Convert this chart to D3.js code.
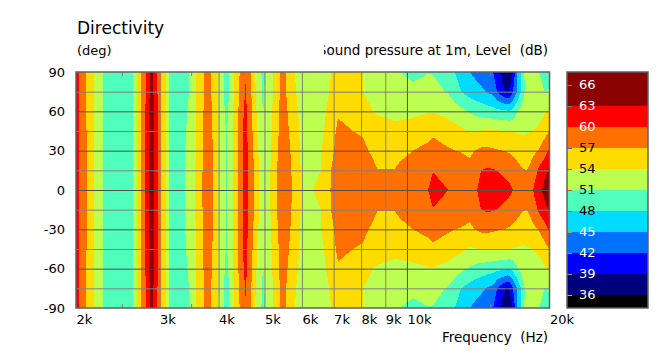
<!DOCTYPE html>
<html>
<head>
<meta charset="utf-8">
<script src="https://cdn.jsdelivr.net/npm/d3@7"></script>
<style>
  html, body { margin: 0; padding: 0; background: #fff; }
  text { font-family: "DejaVu Sans", sans-serif; font-size: 13px; fill: #000; white-space: pre; }
  .domain { display: none; }
  .y-axis text, .x-axis text { font-size: 13px; }
</style>
</head>
<body>
<svg id="chart"></svg>
<script>
var width = 666
var height = 351

// Frequency columns of the measurement (Hz)
var freqs = [
  2000, 2029, 2105, 2183, 2286, 2453, 2643, 2697, 2748, 2797, 2852, 2887, 2923, 2980,
  3024, 3091, 3151, 3284, 3398, 3465, 3585, 3709, 3791, 3875, 3990,
  4108, 4158, 4209, 4292, 4397, 4505, 4561, 4616, 4684, 4753, 4870, 4966, 5063,
  5138, 5213, 5303, 5394, 5499, 5608, 5718, 5973, 6121,
  6332, 6584, 6912, 7151, 7692, 8076, 8478, 8645, 9436, 9668, 10299,
  11078, 11351, 12151, 12633, 12944, 13589, 14059, 14335, 14760, 15197,
  15495, 15723, 15954, 16268, 16507, 16749, 17078, 17414, 17670, 17930, 18460, 19007, 19569, 20000
]

// Level in dB per angle. The plot is mirrored around 0 deg
var deg0 = [
  60.9, 60, 57, 54, 51, 49.5, 51, 54, 57, 60, 63, 66, 63, 60,
  57, 54, 51, 49.5, 51, 52.2, 54.2, 57.3, 59, 57.5, 54,
  51.5, 50.9, 52, 54.2, 57.2, 60, 62, 60, 58.5, 57, 54, 52.5, 52.2,
  54, 55.5, 57, 58, 59, 58, 57, 54, 53.2,
  54, 55.3, 57.1, 58, 58, 58, 58, 58, 58, 58, 58.3,
  60, 62, 60.1, 59.3, 59.2, 59, 60, 60.8, 61.5, 61.5,
  61.5, 61.4, 61.2, 61, 60.6, 60, 59.2, 58.8, 58.5, 58.8, 60, 61.8, 64.5, 66.5
]
var deg15 = [
  60.9, 60, 57, 54, 51, 49.5, 51, 54, 57, 60, 63, 66, 63, 60,
  57, 54, 51, 49.5, 51, 52.2, 54.2, 57.2, 59, 57.5, 54,
  51.5, 50.9, 51.9, 54.1, 57.2, 60, 62, 60, 58.5, 57, 54, 52.4, 52.2,
  53.8, 55.3, 56.8, 57.9, 59, 57.9, 56.8, 53.9, 53.2,
  53.6, 54, 57, 58, 58, 58, 57.7, 57.1, 57.1, 57.5, 58,
  59, 59.8, 58.7, 58.3, 58.2, 57.5, 58.9, 60, 60.4, 60.2,
  60, 59.7, 59.4, 58.9, 58.6, 58.3, 57.9, 57.4, 57.1, 57, 58.3, 60.6, 62, 63.5
]
var deg30 = [
  60.9, 60, 57, 54, 51, 49.5, 51, 54, 57, 60, 63, 66, 63, 60,
  57, 54, 51, 49.5, 50.9, 52.1, 54.1, 57, 59, 57.4, 54,
  51.5, 50.9, 51.8, 54, 57, 60, 61.5, 59.8, 58.3, 56.5, 53.6, 52, 52.1,
  53.5, 55, 56.5, 57.8, 58.8, 57.7, 56.5, 53.7, 53.2,
  53.4, 53.9, 56.3, 57.9, 57.8, 57.6, 56.5, 55.9, 56, 56.4, 57,
  57.6, 57.8, 57.3, 57, 56.9, 56.7, 57.2, 57.6, 57.7, 57.4,
  57.2, 57.1, 57, 56.9, 56.7, 56.5, 56, 55.5, 55.2, 55.5, 56.4, 57.2, 59, 60.5
]
var deg45 = [
  60.9, 60, 57, 54, 51, 49.5, 51, 54, 57, 60, 63, 66, 63, 60,
  57, 54, 51, 49.4, 50.7, 51.9, 54, 57, 58.8, 57.2, 54,
  51.5, 50.8, 51.6, 54, 57, 59.9, 61, 59.6, 58, 56, 53, 51, 52.1,
  53.2, 54.6, 56, 57.6, 58.6, 57.3, 56, 53.5, 53,
  53, 53.4, 55.5, 57.7, 57, 56.7, 55.2, 55, 54.5, 54.6, 54.8,
  56.2, 56.6, 55.9, 55, 54.7, 53.7, 53.9, 54.1, 54.2, 54.2,
  54.2, 54.1, 54.1, 54, 54, 53.9, 53.8, 53.7, 53.7, 53.8, 54, 54.4, 56, 57.1
]
var deg60 = [
  60.9, 60, 56.9, 53.9, 50.9, 49.5, 51, 54, 57, 59.9, 63, 65.5, 63, 60,
  57, 54, 51, 49.3, 50.4, 51.4, 54, 56.8, 58.7, 57, 54,
  51.2, 50.5, 51.3, 53.8, 56.8, 59.7, 60.8, 59.4, 57.7, 55.6, 52.4, 50.9, 52,
  53, 54.3, 55.8, 57.4, 58.3, 56.8, 55.5, 53.3, 52.8,
  52.8, 53.2, 54.8, 56.6, 56, 54.8, 54, 53.8, 53.5, 53.5, 53.6,
  53.8, 53.8, 53, 52.3, 51.8, 50.7, 50, 49.8, 49.4, 49,
  48.8, 48.7, 48.6, 48.4, 48.3, 49, 50.8, 51.8, 52.2, 52.5, 52.8, 53.2, 53.8, 54.3
]
var deg75 = [
  60.9, 60, 56.8, 53.9, 50.9, 49.5, 51, 54, 57, 59, 62.3, 64.5, 62.5, 59.6,
  56.8, 54, 51, 49.3, 50.2, 51, 54, 56.6, 58.5, 56.6, 54,
  51, 50.3, 51, 53.6, 56.4, 59, 60.2, 58.8, 57.2, 55, 52, 50.7, 51.7,
  52.8, 54.1, 55.6, 57.1, 57.9, 56.2, 54.8, 53, 52.8,
  52.6, 53, 54.2, 55.5, 55.5, 54, 53.5, 53.2, 52.4, 52.3, 51.4,
  51.6, 51.6, 50.9, 49.5, 48.2, 46.8, 46, 45.6, 44.8, 44.2,
  42, 41, 39.8, 38.5, 39.4, 42, 45, 48.1, 50.8, 51.3, 51.6, 52.2, 50.9, 51.4
]
var deg90 = [
  60.9, 60, 56.8, 53.8, 50.9, 49.5, 51, 54, 57, 58.6, 62.3, 64.5, 62.5, 59.4,
  56.8, 54, 51, 49.2, 50.2, 51, 54, 56.5, 58.5, 56.5, 54,
  51, 50.2, 51, 53.5, 56.2, 58.7, 59.7, 58.7, 57, 54.8, 51.7, 50.5, 51.4,
  52.7, 54, 55.5, 57, 57.7, 55.8, 54.5, 53, 52.8,
  52.5, 52.8, 54, 55, 55.3, 54, 53.2, 53, 51.3, 51, 50.6,
  50.95, 50.9, 49.3, 48, 47, 45, 44, 43.6, 42.9, 42,
  41, 39, 37.5, 35.8, 38, 39, 45, 48, 51, 51.5, 52, 51, 50, 50
]

var angles = [-90, -75, -60, -45, -30, -15, 0, 15, 30, 45, 60, 75, 90]
var rows = [deg90, deg75, deg60, deg45, deg30, deg15, deg0, deg15, deg30, deg45, deg60, deg75, deg90]

// Color bands
var levels = [36, 39, 42, 45, 48, 51, 54, 57, 60, 63]
var bandColors = ['#000000', '#00007f', '#0000ff', '#0070ff', '#00dcff', '#50ffbc', '#bcff50', '#ffdc00', '#ff7000', '#ff0000', '#8b0000']

// Color bar ticks
var barTicks = [36, 39, 42, 45, 48, 51, 54, 57, 60, 63, 66]
var barTickColors = ['#b0b0b0', '#a0a040', '#a0a040', '#c0a020', '#b06050', '#f04040', '#4060e0', '#4060e0', '#40a0a0', '#40a0a0', '#40a0a0']
var barLabelColors = ['#fff', '#fff', '#fff', '#fff', '#000', '#000', '#000', '#000', '#fff', '#fff', '#fff']

// Axis ticks
var freqTicks = [2000, 3000, 4000, 5000, 6000, 7000, 8000, 9000, 10000, 20000]
var freqLabels = ['2k', '3k', '4k', '5k', '6k', '7k', '8k', '9k', '10k', '20k']
var freqMinor = [2500, 3500, 4500, 15000]
var angleTicks = [-90, -60, -30, 0, 30, 60, 90]
var angleMinor = [-75, -45, -15, 15, 45, 75]

var margin = { top: 72, right: 117, bottom: 43, left: 76 }
var gridGrey = '#808080'
var gridDark = '#505050'
var frameGrey = '#606060'

var svg = d3.select("#chart")
  .attr("width", width)
  .attr("height", height)
  .style("display", "block")

// Add X and Y scales
var xScale = d3.scaleLog()
  .domain([2000, 20000])
  .range([margin.left, width - margin.right + 0.5])

var yScale = d3.scaleLinear()
  .domain([-90, 90])
  .range([height - margin.bottom, margin.top])

var colorScale = d3.scaleThreshold()
  .domain(levels)
  .range(bandColors)

// Contour grid, row by row from -90 to 90
var nx = freqs.length
var ny = angles.length
var grid = []
rows.forEach(function(row) {
  row.forEach(function(v) { grid.push(v) })
})

var contours = d3.contours()
  .size([nx, ny])
  .thresholds([0].concat(levels))(grid)

// contour coordinates put sample i at i + 0.5
function lerpAt(t, n, at) {
  var u = Math.max(0, Math.min(n - 1, t - 0.5))
  var i = Math.min(n - 2, Math.floor(u))
  return at(i) + (at(i + 1) - at(i)) * (u - i)
}

var path = d3.geoPath(d3.geoTransform({
  point: function(x, y) {
    this.stream.point(
      lerpAt(x, nx, function(i) { return xScale(freqs[i]) }),
      lerpAt(y, ny, function(i) { return yScale(angles[i]) })
    )
  }
}))

// Render contour bands
svg.append("g")
  .attr("class", "bands")
  .selectAll("path")
  .data(contours)
  .enter()
  .append("path")
  .attr("d", path)
  .attr("fill", function(d) { return colorScale(d.value) })
  .attr("shape-rendering", "crispEdges")

var plotHeight = height - margin.bottom - margin.top
var plotWidth = xScale.range()[1] - margin.left

// Render X grid
var xGrid = d3.axisBottom(xScale)
  .tickValues(freqTicks.slice(1, -1))
  .tickSize(-plotHeight)
  .tickFormat("")

svg.append("g")
  .attr("transform", `translate(0,${height - margin.bottom})`)
  .attr("class", "grid")
  .call(xGrid)
  .selectAll("line")
  .attr("stroke", function(d) { return d === 10000 ? gridDark : gridGrey })

// Render Y grid, minor lines first
svg.append("g")
  .attr("transform", `translate(${margin.left},0)`)
  .attr("class", "grid")
  .call(d3.axisLeft(yScale).tickValues(angleMinor).tickSize(-plotWidth).tickFormat(""))
  .selectAll("line")
  .attr("stroke", gridGrey)

svg.append("g")
  .attr("transform", `translate(${margin.left},0)`)
  .attr("class", "grid")
  .call(d3.axisLeft(yScale).tickValues(angleTicks.slice(1, -1)).tickSize(-plotWidth).tickFormat(""))
  .selectAll("line")
  .attr("stroke", gridDark)

// Minor frequency ticks on top and bottom edge
svg.append("g")
  .attr("transform", `translate(0,${height - margin.bottom})`)
  .call(d3.axisBottom(xScale).tickValues(freqMinor).tickSize(-4).tickFormat(""))
  .selectAll("line")
  .attr("stroke", gridGrey)

svg.append("g")
  .attr("transform", `translate(0,${margin.top})`)
  .call(d3.axisTop(xScale).tickValues(freqMinor).tickSize(-4).tickFormat(""))
  .selectAll("line")
  .attr("stroke", gridGrey)

// Plot frame
svg.append("rect")
  .attr("x", margin.left)
  .attr("y", margin.top)
  .attr("width", plotWidth)
  .attr("height", plotHeight)
  .attr("fill", "none")
  .attr("stroke", frameGrey)
  .attr("stroke-width", 1.5)

// Frequency labels start at their tick
var xAxis = d3.axisBottom(xScale)
  .tickValues(freqTicks)
  .tickSize(0)
  .tickPadding(6)
  .tickFormat(function(d, i) { return freqLabels[i] })

svg.append("g")
  .attr("transform", `translate(0,${height - margin.bottom + 1})`)
  .attr("class", "x-axis")
  .call(xAxis)
  .selectAll("text")
  .style("text-anchor", "start")

var yAxis = d3.axisLeft(yScale)
  .tickValues(angleTicks)
  .tickSize(0)
  .tickPadding(11)
  .tickFormat(function(d) { return String(d) })

svg.append("g")
  .attr("transform", `translate(${margin.left},0)`)
  .attr("class", "y-axis")
  .call(yAxis)

// Color bar
var barX = 567
var barWidth = 81
var barScale = d3.scaleLinear()
  .domain([36, 66])
  .range([295, 85])

var barTop = margin.top
var barBottom = height - margin.bottom

svg.append("g")
  .selectAll("rect")
  .data(bandColors)
  .enter()
  .append("rect")
  .attr("x", barX)
  .attr("width", barWidth)
  .attr("y", function(d) {
    var hi = colorScale.invertExtent(d)[1]
    return hi === undefined ? barTop : barScale(hi)
  })
  .attr("height", function(d) {
    var ext = colorScale.invertExtent(d)
    var top = ext[1] === undefined ? barTop : barScale(ext[1])
    var bottom = ext[0] === undefined ? barBottom : barScale(ext[0])
    return bottom - top
  })
  .attr("fill", function(d) { return d })
  .attr("shape-rendering", "crispEdges")

svg.append("g")
  .selectAll("line")
  .data(barTicks)
  .enter()
  .append("line")
  .attr("x1", barX)
  .attr("x2", barX + 5)
  .attr("y1", function(d) { return Math.round(barScale(d)) + 0.5 })
  .attr("y2", function(d) { return Math.round(barScale(d)) + 0.5 })
  .attr("stroke", function(d, i) { return barTickColors[i] })

svg.append("g")
  .selectAll("text")
  .data(barTicks)
  .enter()
  .append("text")
  .attr("x", 579)
  .attr("y", function(d) { return barScale(d) + 4 })
  .style("fill", function(d, i) { return barLabelColors[i] })
  .text(function(d) { return d })

svg.append("rect")
  .attr("x", barX)
  .attr("y", barTop)
  .attr("width", barWidth)
  .attr("height", barBottom - barTop)
  .attr("fill", "none")
  .attr("stroke", frameGrey)
  .attr("stroke-width", 1.5)

// Titles. The level caption is cut off on its left side in the original
svg.append("clipPath")
  .attr("id", "caption-clip")
  .append("rect")
  .attr("x", 324)
  .attr("y", 30)
  .attr("width", 240)
  .attr("height", 30)

svg.append("text")
  .attr("x", 77)
  .attr("y", 34)
  .style("font-size", "17px")
  .text("Directivity")

svg.append("text")
  .attr("x", 77)
  .attr("y", 55)
  .text("(deg)")

svg.append("text")
  .attr("x", 548)
  .attr("y", 55)
  .attr("clip-path", "url(#caption-clip)")
  .style("font-size", "13.5px")
  .style("text-anchor", "end")
  .text("Sound pressure at 1m, Level  (dB)")

svg.append("text")
  .attr("x", 548)
  .attr("y", 342)
  .style("font-size", "13.5px")
  .style("text-anchor", "end")
  .text("Frequency  (Hz)")
</script>
</body>
</html>
